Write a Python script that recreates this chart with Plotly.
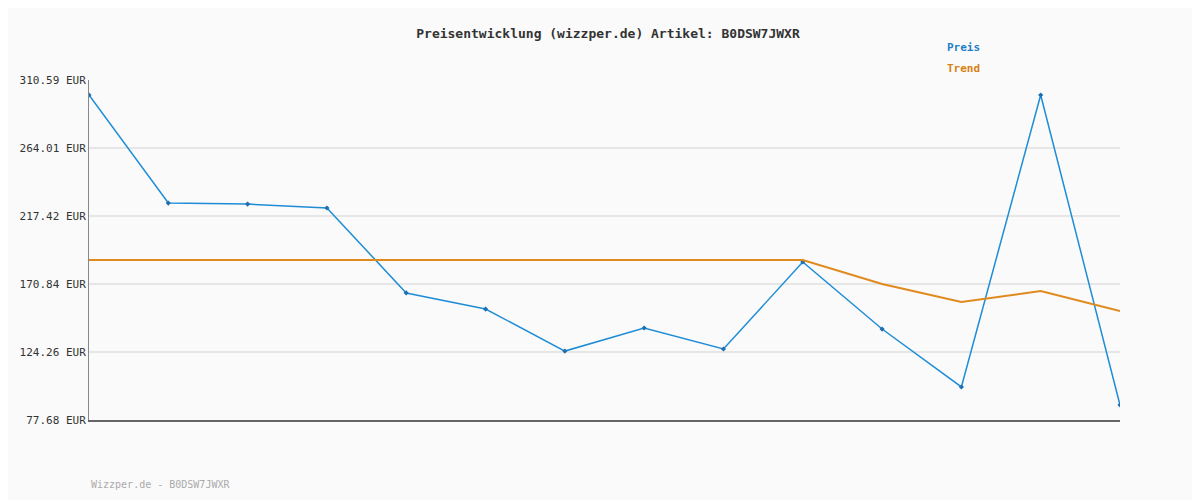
import plotly.graph_objects as go

x_idx = list(range(14))
preis = [300.3, 226.3, 225.6, 222.9, 164.7, 153.7, 124.9, 140.7, 126.3, 185.9, 140.0, 100.3, 300.3, 87.95]
trend = [187.3] * 10 + [170.8, 158.5, 166.0, 152.4]
y_ticks = [77.68, 124.26, 170.84, 217.42, 264.01, 310.59]
y_labels = ["%.2f EUR" % v for v in y_ticks]

FONT = "DejaVu Sans Mono"

fig = go.Figure()
fig.add_trace(go.Scatter(x=x_idx, y=preis, mode="lines+markers", name="Preis",
                         line=dict(color="#1f8dd6", width=1.5),
                         marker=dict(color="#1f6fb0", size=4, symbol="diamond")))
fig.add_trace(go.Scatter(x=x_idx, y=trend, mode="lines", name="Trend",
                         line=dict(color="#e08a1e", width=2)))

fig.update_layout(
    width=1200, height=500, autosize=False,
    paper_bgcolor="#fafafa", plot_bgcolor="#fafafa",
    margin=dict(l=72, r=88, t=72, b=88),
    font=dict(family=FONT, size=11, color="#333"),
    title=dict(text="<b>Preisentwicklung (wizzper.de) Artikel: B0DSW7JWXR</b>",
               x=0.5, y=0.958, xanchor="center", font=dict(family=FONT, size=13, color="#333")),
    showlegend=False,
    xaxis=dict(range=[0, 13], showgrid=False, showticklabels=False, zeroline=False,
               showline=True, linecolor="#666", linewidth=1.5),
    yaxis=dict(range=[77.68, 310.59], tickvals=y_ticks, ticktext=y_labels,
               showgrid=True, gridcolor="#e6e6e6", gridwidth=2, zeroline=False,
               showline=True, linecolor="#888", linewidth=1, ticks="", ticklabelstandoff=0,
               tickfont=dict(family=FONT, size=11, color="#333")),
    annotations=[
        dict(text="Wizzper.de - B0DSW7JWXR", x=0, y=-0.19, xref="paper", yref="paper",
             xanchor="left", yanchor="middle", showarrow=False,
             font=dict(family=FONT, size=10, color="#aaa")),
        dict(text="<b>Preis</b>", x=0.83, y=1.095, xref="paper", yref="paper",
             xanchor="left", yanchor="middle", showarrow=False,
             font=dict(family=FONT, size=11, color="#1f7fc4")),
        dict(text="<b>Trend</b>", x=0.83, y=1.035, xref="paper", yref="paper",
             xanchor="left", yanchor="middle", showarrow=False,
             font=dict(family=FONT, size=11, color="#d98010")),
    ],
)
fig.write_html("out.html")
